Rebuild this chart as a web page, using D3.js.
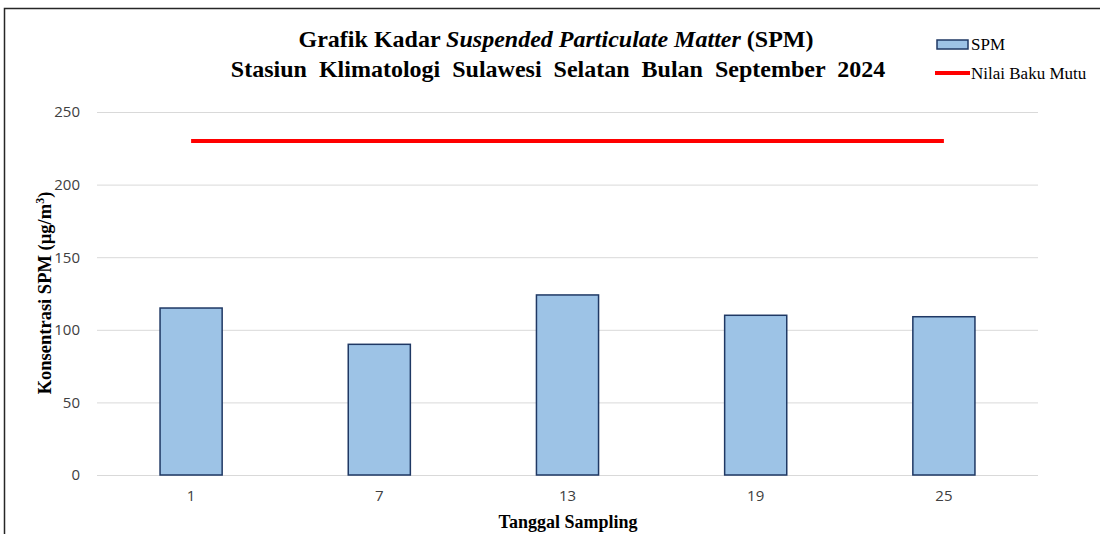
<!DOCTYPE html>
<html>
<head>
<meta charset="utf-8">
<script src="https://cdn.jsdelivr.net/npm/d3@7"></script>
<style>
  body { margin: 0; background: #fff; }
  svg { display: block; }
</style>
</head>
<body>
<script>
const w = 1100
const h = 534

// data
const days = ['1', '7', '13', '19', '25']
const spm = [115, 90, 124, 110, 109]
const bakuMutu = [230, 230, 230, 230, 230]
const yTicks = [0, 50, 100, 150, 200, 250]

const margin = {left: 97, right: 62, top: 112, bottom: 59}

const serif = '"Liberation Serif", "Times New Roman", serif'
const sans = '"Open Sans", "Liberation Sans", sans-serif'

const svg = d3.select('body').append('svg')
    .attr('width', w)
    .attr('height', h)

// chart frame
svg.append('rect')
    .attr('x', 4.5)
    .attr('y', 8.5)
    .attr('width', w + 20)
    .attr('height', h + 20)
    .style('fill', 'none')
    .style('stroke', '#262626')
    .style('stroke-width', 1.5)

const x = d3.scaleBand()
    .domain(days)
    .range([margin.left, w - margin.right])
    .paddingInner(0.67)
    .paddingOuter(0.335)

const y = d3.scaleLinear()
    .domain([0, 250])
    .range([h - margin.bottom, margin.top])

// gridlines
svg.append('g')
    .attr('transform', 'translate(' + margin.left + ',0)')
    .call(d3.axisLeft(y).tickValues(yTicks).tickSize(-(w - margin.left - margin.right)).tickFormat(''))
    .call(g => g.select('.domain').remove())
    .call(g => g.selectAll('line').style('stroke', '#d9d9d9').style('stroke-width', 1))

// y tick labels
svg.append('g')
    .attr('transform', 'translate(' + (margin.left - 14) + ',0)')
    .call(d3.axisLeft(y).tickValues(yTicks).tickSize(0))
    .call(g => g.select('.domain').remove())
    .call(g => g.selectAll('text')
        .attr('font-family', sans)
        .attr('font-size', 15)
        .attr('fill', '#404040'))

// x tick labels
svg.append('g')
    .attr('transform', 'translate(0,' + (h - margin.bottom) + ')')
    .call(d3.axisBottom(x).tickSize(0).tickPadding(15))
    .call(g => g.select('.domain').remove())
    .call(g => g.selectAll('text')
        .attr('font-family', sans)
        .attr('font-size', 15)
        .attr('fill', '#404040'))

// bars
svg.selectAll('rect.bar')
    .data(spm)
    .enter()
    .append('rect')
    .attr('class', 'bar')
    .attr('x', (d, i) => x(days[i]))
    .attr('y', d => y(d))
    .attr('width', x.bandwidth())
    .attr('height', d => y(0) - y(d))
    .style('fill', '#9dc3e6')
    .style('stroke', '#1f3864')
    .style('stroke-width', 1.5)

// baku mutu line
const line = d3.line()
    .x((d, i) => x(days[i]) + x.bandwidth() / 2)
    .y(d => y(d))

svg.append('path')
    .datum(bakuMutu)
    .attr('d', line)
    .style('fill', 'none')
    .style('stroke', '#ff0000')
    .style('stroke-width', 4)

// titles
const t1 = svg.append('text')
    .attr('x', 556)
    .attr('y', 47)
    .attr('text-anchor', 'middle')
    .attr('font-family', serif)
    .attr('font-weight', 'bold')
    .attr('font-size', 24)
    .attr('fill', '#000')
t1.append('tspan').text('Grafik Kadar ')
t1.append('tspan').attr('font-style', 'italic').text('Suspended Particulate Matter')
t1.append('tspan').text(' (SPM)')

svg.append('text')
    .attr('x', 558)
    .attr('y', 77)
    .attr('text-anchor', 'middle')
    .attr('font-family', serif)
    .attr('font-weight', 'bold')
    .attr('font-size', 24)
    .attr('word-spacing', 6)
    .attr('fill', '#000')
    .text('Stasiun Klimatologi Sulawesi Selatan Bulan September 2024')

// axis titles
svg.append('text')
    .attr('x', 568)
    .attr('y', 528)
    .attr('text-anchor', 'middle')
    .attr('font-family', serif)
    .attr('font-weight', 'bold')
    .attr('font-size', 18)
    .text('Tanggal Sampling')

const yt = svg.append('text')
    .attr('transform', 'translate(51,293) rotate(-90)')
    .attr('text-anchor', 'middle')
    .attr('font-family', serif)
    .attr('font-weight', 'bold')
    .attr('font-size', 18.5)
yt.append('tspan').text('Konsentrasi SPM (µg/m')
yt.append('tspan').attr('dy', -7).attr('font-size', 12).text('3')
yt.append('tspan').attr('dy', 7).text(')')

// legend
const legend = svg.append('g')
    .attr('font-family', serif)
    .attr('font-size', 17)

legend.append('rect')
    .attr('x', 937)
    .attr('y', 40)
    .attr('width', 31)
    .attr('height', 9)
    .style('fill', '#9dc3e6')
    .style('stroke', '#1f3864')
    .style('stroke-width', 1.5)
legend.append('text')
    .attr('x', 971)
    .attr('y', 50)
    .text('SPM')

legend.append('line')
    .attr('x1', 935)
    .attr('x2', 970)
    .attr('y1', 73)
    .attr('y2', 73)
    .style('stroke', '#ff0000')
    .style('stroke-width', 4)
legend.append('text')
    .attr('x', 971)
    .attr('y', 79)
    .text('Nilai Baku Mutu')
</script>
</body>
</html>
